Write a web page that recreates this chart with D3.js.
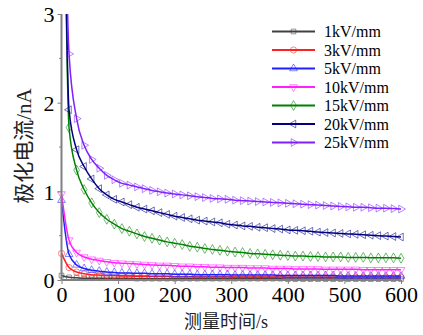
<!DOCTYPE html>
<html>
<head>
<meta charset="utf-8">
<script src="https://cdn.jsdelivr.net/npm/d3@7"></script>
<style>
  body { margin: 0; background: #fff; }
  text { font-family: "Liberation Serif", "Times New Roman", "Noto Sans CJK SC", serif; }
</style>
</head>
<body>
<div id="viz"></div>
<script>
// measurement times (s)
const times = [0, 13.3, 26.7, 40, 53.3, 66.7, 80, 93.3, 106.7, 120, 133.3, 146.7, 160, 173.3, 186.7,
  200, 213.3, 226.7, 240, 253.3, 266.7, 280, 293.3, 306.7, 320, 333.3, 346.7, 360, 373.3, 386.7,
  400, 413.3, 426.7, 440, 453.3, 466.7, 480, 493.3, 506.7, 520, 533.3, 546.7, 560, 573.3, 586.7, 600];

const labels = ['1kV/mm', '3kV/mm', '5kV/mm', '10kV/mm', '15kV/mm', '20kV/mm', '25kV/mm'];

// polarization current (nA)
const i1 = [0.05, 0.03, 0.025, 0.02, 0.02, 0.02, 0.02, 0.02, 0.02, 0.02, 0.015, 0.015, 0.015, 0.015, 0.015,
  0.015, 0.015, 0.015, 0.015, 0.015, 0.015, 0.015, 0.015, 0.015, 0.015, 0.015, 0.015, 0.015, 0.015, 0.015,
  0.01, 0.01, 0.01, 0.01, 0.01, 0.01, 0.01, 0.01, 0.01, 0.01, 0.01, 0.01, 0.01, 0.01, 0.01, 0.01];
const i3 = [0.30, 0.14, 0.09, 0.07, 0.06, 0.055, 0.05, 0.05, 0.045, 0.045, 0.04, 0.04, 0.04, 0.04, 0.04,
  0.035, 0.035, 0.035, 0.035, 0.035, 0.035, 0.035, 0.035, 0.035, 0.035, 0.035, 0.035, 0.035, 0.035, 0.035,
  0.03, 0.03, 0.03, 0.03, 0.03, 0.03, 0.03, 0.03, 0.03, 0.03, 0.03, 0.03, 0.03, 0.03, 0.03, 0.03];
const i5 = [0.90, 0.29, 0.17, 0.13, 0.11, 0.10, 0.09, 0.085, 0.08, 0.08, 0.075, 0.075, 0.07, 0.07, 0.07,
  0.065, 0.065, 0.065, 0.06, 0.06, 0.06, 0.06, 0.06, 0.055, 0.055, 0.055, 0.055, 0.055, 0.055, 0.05,
  0.05, 0.05, 0.05, 0.05, 0.05, 0.05, 0.05, 0.045, 0.045, 0.045, 0.045, 0.045, 0.045, 0.045, 0.045, 0.045];
const i10 = [0.97, 0.45, 0.31, 0.26, 0.235, 0.22, 0.205, 0.195, 0.19, 0.185, 0.18, 0.175, 0.17, 0.165, 0.165,
  0.16, 0.155, 0.155, 0.15, 0.15, 0.145, 0.145, 0.14, 0.14, 0.14, 0.135, 0.135, 0.135, 0.13, 0.13,
  0.13, 0.125, 0.125, 0.125, 0.125, 0.12, 0.12, 0.12, 0.12, 0.12, 0.115, 0.115, 0.115, 0.115, 0.115, 0.115];
const i15 = [7.5, 1.72, 1.24, 1.02, 0.87, 0.76, 0.685, 0.63, 0.58, 0.55, 0.52, 0.49, 0.47, 0.45, 0.43,
  0.415, 0.40, 0.38, 0.37, 0.355, 0.345, 0.335, 0.325, 0.315, 0.31, 0.30, 0.295, 0.29, 0.285, 0.28,
  0.275, 0.27, 0.27, 0.265, 0.265, 0.26, 0.26, 0.26, 0.255, 0.255, 0.255, 0.25, 0.25, 0.25, 0.25, 0.245];
const i20 = [7.5, 1.92, 1.47, 1.28, 1.14, 1.03, 0.96, 0.91, 0.88, 0.85, 0.82, 0.80, 0.78, 0.76, 0.74,
  0.72, 0.705, 0.69, 0.675, 0.665, 0.655, 0.645, 0.63, 0.62, 0.61, 0.605, 0.595, 0.59, 0.58, 0.575,
  0.565, 0.56, 0.555, 0.55, 0.54, 0.535, 0.53, 0.525, 0.52, 0.515, 0.51, 0.505, 0.50, 0.495, 0.49, 0.485];
const i25 = [7.0, 2.55, 1.82, 1.52, 1.36, 1.26, 1.18, 1.13, 1.09, 1.07, 1.05, 1.03, 1.01, 0.995, 0.98,
  0.97, 0.96, 0.95, 0.94, 0.93, 0.92, 0.915, 0.91, 0.90, 0.895, 0.89, 0.885, 0.88, 0.875, 0.87,
  0.865, 0.86, 0.855, 0.85, 0.845, 0.84, 0.835, 0.83, 0.825, 0.82, 0.82, 0.815, 0.81, 0.81, 0.805, 0.80];

const xTicks = [0, 100, 200, 300, 400, 500, 600];
const yTicks = [0, 1, 2, 3];

const series = [i1, i3, i5, i10, i15, i20, i25];
const colors = ['#404040', '#ff2020', '#2020ff', '#ff20ff', '#008000', '#000080', '#8020ff'];
// symbol type, rotation, size
const shapes = [
  [d3.symbolSquare, 0, 22],
  [d3.symbolCircle, 0, 30],
  [d3.symbolTriangle, 0, 26],
  [d3.symbolTriangle, 180, 26],
  [d3.symbolDiamond, 0, 28],
  [d3.symbolTriangle, -90, 26],
  [d3.symbolTriangle, 90, 26]
];

const width = 423, height = 335;
const x = d3.scaleLinear().domain([0, 600]).range([61.5, 401]);
const y = d3.scaleLinear().domain([0, 3]).range([280, 14]);

const svg = d3.select('#viz')
  .append('svg')
  .attr('width', width)
  .attr('height', height);

svg.append('rect').attr('width', width).attr('height', height).attr('fill', '#fff');

svg.append('clipPath').attr('id', 'plot')
  .append('rect')
  .attr('x', 55).attr('y', 14)
  .attr('width', 360).attr('height', 275);

const plot = svg.append('g').attr('clip-path', 'url(#plot)');

const line = d3.line()
  .x((d, i) => x(times[i]))
  .y(d => y(d))
  .curve(d3.curveMonotoneX);

series.forEach((vals, k) => {
  const g = plot.append('g');
  g.append('path')
    .attr('d', line(vals))
    .attr('fill', 'none')
    .attr('stroke', colors[k])
    .attr('stroke-width', 1.5);
  const sym = d3.symbol().type(shapes[k][0]).size(shapes[k][2]);
  g.selectAll('path.m')
    .data(vals)
    .join('path')
    .attr('class', 'm')
    .attr('d', sym)
    .attr('transform', (d, i) => `translate(${x(times[i])},${y(d)}) rotate(${shapes[k][1]})`)
    .attr('fill', 'none')
    .attr('stroke', colors[k])
    .attr('stroke-opacity', 0.55)
    .attr('stroke-width', 1);
});

// axes
const axisColor = '#808080';
const xAxis = svg.append('g')
  .attr('transform', `translate(0,${y(0)})`)
  .call(d3.axisBottom(x).tickValues(xTicks).tickSize(4).tickPadding(2).tickFormat(d3.format('d')));
const yAxis = svg.append('g')
  .attr('transform', `translate(${x(0)},0)`)
  .call(d3.axisLeft(y).tickValues(yTicks).tickSize(4).tickPadding(3).tickFormat(d3.format('d')));

[xAxis, yAxis].forEach(a => {
  a.select('.domain').attr('stroke', axisColor).attr('stroke-width', 2);
  a.selectAll('.tick line').attr('stroke', axisColor).attr('stroke-width', 1);
  a.selectAll('.tick text')
    .attr('fill', '#000')
    .style('font-size', '22px')
    .style('font-family', '"Liberation Serif", "Times New Roman", serif');
});
xAxis.select('.domain').attr('d', `M${x(0)},0H${x(600)}`);
yAxis.select('.domain').attr('d', `M0,${y(0)}V${y(3)}`);
yAxis.selectAll('.tick text').attr('dy', '0.36em');

// minor y ticks
svg.append('g')
  .selectAll('line')
  .data([0.5, 1.5, 2.5])
  .join('line')
  .attr('x1', x(0) - 2.5).attr('x2', x(0))
  .attr('y1', d => y(d)).attr('y2', d => y(d))
  .attr('stroke', axisColor);

// axis titles
svg.append('text')
  .attr('x', 226).attr('y', 328)
  .attr('text-anchor', 'middle')
  .style('font-size', '18px')
  .attr('fill', '#222')
  .text('测量时间/s');

svg.append('text')
  .attr('transform', 'translate(31,146) rotate(-90)')
  .attr('text-anchor', 'middle')
  .style('font-size', '21px')
  .attr('fill', '#222')
  .text('极化电流/nA');

// legend
const legend = svg.append('g').attr('transform', 'translate(272,31.5)');
labels.forEach((lab, k) => {
  const row = legend.append('g').attr('transform', `translate(0,${k * 18.5})`);
  row.append('line')
    .attr('x1', 0).attr('x2', 43)
    .attr('stroke', colors[k]).attr('stroke-width', 2);
  row.append('path')
    .attr('d', d3.symbol().type(shapes[k][0]).size(shapes[k][2])())
    .attr('transform', `translate(21.5,0) rotate(${shapes[k][1]})`)
    .attr('fill', 'none')
    .attr('stroke', colors[k])
    .attr('stroke-opacity', 0.55);
  row.append('text')
    .attr('x', 52).attr('y', 5.5)
    .style('font-size', '16px')
    .attr('fill', '#000')
    .text(lab);
});
</script>
</body>
</html>
